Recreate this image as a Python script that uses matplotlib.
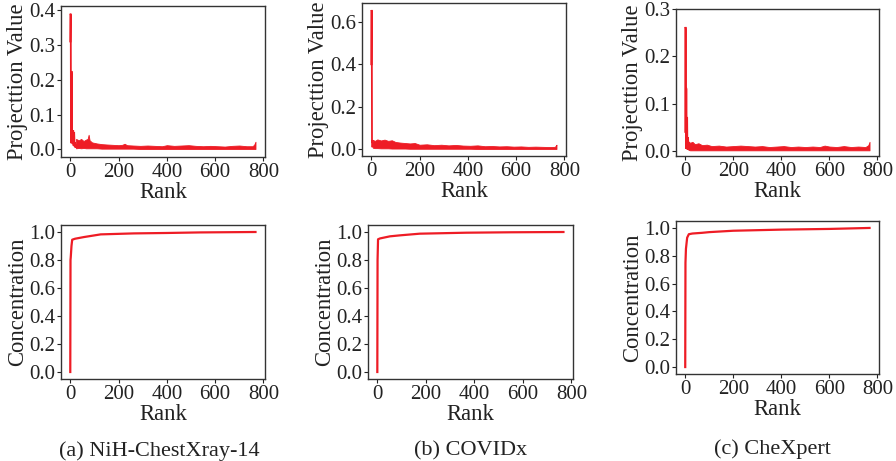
import matplotlib
matplotlib.use("Agg")
import matplotlib.pyplot as plt

plt.rcParams['font.family'] = ['Liberation Serif', 'DejaVu Serif']

RED = '#ee1c25'

# ---------------- data ----------------
captions = ['(a) NiH-ChestXray-14', '(b) COVIDx', '(c) CheXpert']
x_ticks = [0, 200, 400, 600, 800]
proj_yticks = [[0.0, 0.1, 0.2, 0.3, 0.4], [0.0, 0.2, 0.4, 0.6], [0.0, 0.1, 0.2, 0.3]]
conc_yticks = [0.0, 0.2, 0.4, 0.6, 0.8, 1.0]

# Projection value: leading spikes (rank, value)
a_head_rank = [0, 1, 2, 3, 4, 5, 6, 7, 8, 9, 10, 12, 14, 16, 18, 20, 22, 24]
a_head_val = [0.31, 0.39, 0.385, 0.02, 0.02, 0.225, 0.22, 0.02, 0.03, 0.05, 0.015, 0.055, 0.01, 0.05, 0.008, 0.02, 0.004, 0.012]
b_head_rank = [0, 1, 2, 3, 4, 5, 6]
b_head_val = [0.40, 0.655, 0.65, 0.03, 0.04, 0.01, 0.03]
c_head_rank = [0, 1, 2, 3, 4, 5, 6, 7, 8, 9, 10, 11, 12, 13]
c_head_val = [0.04, 0.262, 0.258, 0.005, 0.133, 0.13, 0.005, 0.071, 0.07, 0.003, 0.029, 0.003, 0.025, 0.004]

# Projection value: dense noisy tail read as a (low, high) envelope
a_tail_rank = [24, 35, 45, 55, 65, 72, 76, 80, 90, 110, 130, 150, 175, 200, 215, 225, 235, 260, 290, 320, 350,
               380, 400, 430, 460, 490, 520, 550, 580, 610, 640, 670, 700, 730, 755, 762, 767]
a_tail_low = [0.003, 0.004, 0.003, 0.004, 0.003, 0.003, 0.003, 0.003, 0.003, 0.003, 0.002, 0.002, 0.002, 0.002, 0.002,
              0.002, 0.002, 0.002, 0.001, 0.001, 0.001, 0.001, 0.001, 0.001, 0.001, 0.001, 0.001, 0.001, 0.001, 0.001,
              0.001, 0.001, 0.001, 0.001, 0.001, 0.001, 0.001]
a_tail_high = [0.03, 0.026, 0.03, 0.024, 0.028, 0.03, 0.042, 0.026, 0.02, 0.017, 0.015, 0.014, 0.013, 0.012, 0.013,
               0.016, 0.012, 0.011, 0.01, 0.011, 0.01, 0.009, 0.012, 0.01, 0.011, 0.012, 0.01, 0.009, 0.01, 0.009,
               0.008, 0.01, 0.011, 0.009, 0.009, 0.014, 0.022]

b_tail_rank = [6, 15, 25, 40, 55, 70, 85, 100, 120, 140, 160, 180, 200, 230, 260, 290, 320, 350, 380, 410, 440,
               470, 500, 530, 560, 590, 620, 650, 680, 710, 740, 760, 764, 767]
b_tail_low = [0.008, 0.006, 0.006, 0.005, 0.005, 0.005, 0.004, 0.004, 0.004, 0.004, 0.003, 0.003, 0.003, 0.003,
              0.003, 0.003, 0.003, 0.003, 0.003, 0.003, 0.002, 0.002, 0.002, 0.002, 0.002, 0.002, 0.002, 0.002,
              0.002, 0.002, 0.002, 0.002, 0.002, 0.002]
b_tail_high = [0.045, 0.04, 0.047, 0.042, 0.046, 0.04, 0.043, 0.035, 0.032, 0.03, 0.028, 0.03, 0.022, 0.024, 0.02,
               0.022, 0.019, 0.021, 0.018, 0.017, 0.019, 0.015, 0.016, 0.014, 0.015, 0.013, 0.014, 0.012, 0.013,
               0.012, 0.011, 0.012, 0.017, 0.022]

c_tail_rank = [13, 20, 30, 40, 55, 70, 90, 110, 140, 170, 200, 230, 260, 290, 320, 350, 380, 410, 440, 470, 500,
               530, 560, 580, 600, 630, 660, 690, 720, 750, 762, 767]
c_tail_low = [0.002, 0.001, 0.001, 0.001, 0.001, 0.001, 0.001, 0.001, 0.001, 0.001, 0.001, 0.001, 0.001, 0.001,
              0.001, 0.001, 0.001, 0.001, 0.001, 0.001, 0.001, 0.001, 0.001, 0.001, 0.001, 0.001, 0.001, 0.001,
              0.001, 0.001, 0.001, 0.001]
c_tail_high = [0.02, 0.017, 0.019, 0.014, 0.016, 0.012, 0.013, 0.01, 0.011, 0.009, 0.01, 0.011, 0.01, 0.009, 0.01,
               0.008, 0.009, 0.01, 0.008, 0.009, 0.008, 0.009, 0.008, 0.011, 0.009, 0.008, 0.01, 0.008, 0.009,
               0.008, 0.012, 0.019]

# Concentration (cumulative) curves
a_conc_rank = [0, 1, 2, 5, 8, 20, 57, 126, 263, 400, 537, 767]
a_conc_val = [0.0, 0.80, 0.82, 0.90, 0.945, 0.952, 0.964, 0.983, 0.990, 0.993, 0.997, 1.0]
b_conc_rank = [0, 1, 3, 11, 52, 93, 175, 367, 550, 767]
b_conc_val = [0.0, 0.80, 0.948, 0.954, 0.969, 0.976, 0.988, 0.995, 0.998, 1.0]
c_conc_rank = [0, 1, 3, 8, 15, 30, 70, 100, 200, 400, 600, 767]
c_conc_val = [0.0, 0.75, 0.85, 0.93, 0.955, 0.96, 0.965, 0.97, 0.98, 0.988, 0.993, 1.0]

heads = [(a_head_rank, a_head_val), (b_head_rank, b_head_val), (c_head_rank, c_head_val)]
tails = [(a_tail_rank, a_tail_low, a_tail_high), (b_tail_rank, b_tail_low, b_tail_high),
         (c_tail_rank, c_tail_low, c_tail_high)]
concs = [(a_conc_rank, a_conc_val), (b_conc_rank, b_conc_val), (c_conc_rank, c_conc_val)]

# ---------------- layout ----------------
W, H = 896, 461
fig = plt.figure(figsize=(W / 100, H / 100), dpi=100)


def px_axes(l, t, r, b):
    return fig.add_axes([l / W, 1 - b / H, (r - l) / W, (b - t) / H])


top_boxes = [(61, 6, 265, 157), (362, 3, 566, 156), (676, 9, 879, 156)]
bot_boxes = [(61, 225, 265, 379), (368, 225, 573, 379), (676, 221, 879, 374)]
top_ylims = [(-0.022, 0.412), (-0.031, 0.688), (-0.011, 0.3)]
caption_pos = [(159, 455.5), (471, 455), (772, 454)]

TICK_FS = 15
LABEL_FS = 16.3


def style(ax):
    for s in ax.spines.values():
        s.set_color('#333333')
        s.set_linewidth(1.0)
    ax.tick_params(axis='both', labelsize=TICK_FS, colors='#222222', length=3, width=0.8, pad=1)
    ax.set_xlim(-38.4, 806.4)
    ax.set_xticks(x_ticks)
    ax.set_xlabel('Rank', fontsize=LABEL_FS, labelpad=0, color='#222222')


for i in range(3):
    ax = px_axes(*top_boxes[i])
    hr, hv = heads[i]
    tr, tl, th = tails[i]
    ax.plot(hr, hv, color=RED, lw=1.3, solid_joinstyle='miter')
    ax.fill_between(tr, tl, th, color=RED, lw=0.6)
    ax.set_ylim(*top_ylims[i])
    ax.set_yticks(proj_yticks[i])
    ax.set_yticklabels([f'{v:.1f}' for v in proj_yticks[i]])
    style(ax)
    ax.set_ylabel('Projecttion Value', fontsize=LABEL_FS, labelpad=1, color='#222222')

    ax2 = px_axes(*bot_boxes[i])
    cr, cv = concs[i]
    ax2.plot(cr, cv, color=RED, lw=1.6)
    ax2.set_ylim(-0.05, 1.05)
    ax2.set_yticks(conc_yticks)
    ax2.set_yticklabels([f'{v:.1f}' for v in conc_yticks])
    style(ax2)
    ax2.set_ylabel('Concentration', fontsize=LABEL_FS, labelpad=1, color='#222222')

    cx, cy = caption_pos[i]
    fig.text(cx / W, 1 - cy / H, captions[i], fontsize=16, ha='center', va='baseline', color='#222222')

fig.savefig('out.png', dpi=100)
